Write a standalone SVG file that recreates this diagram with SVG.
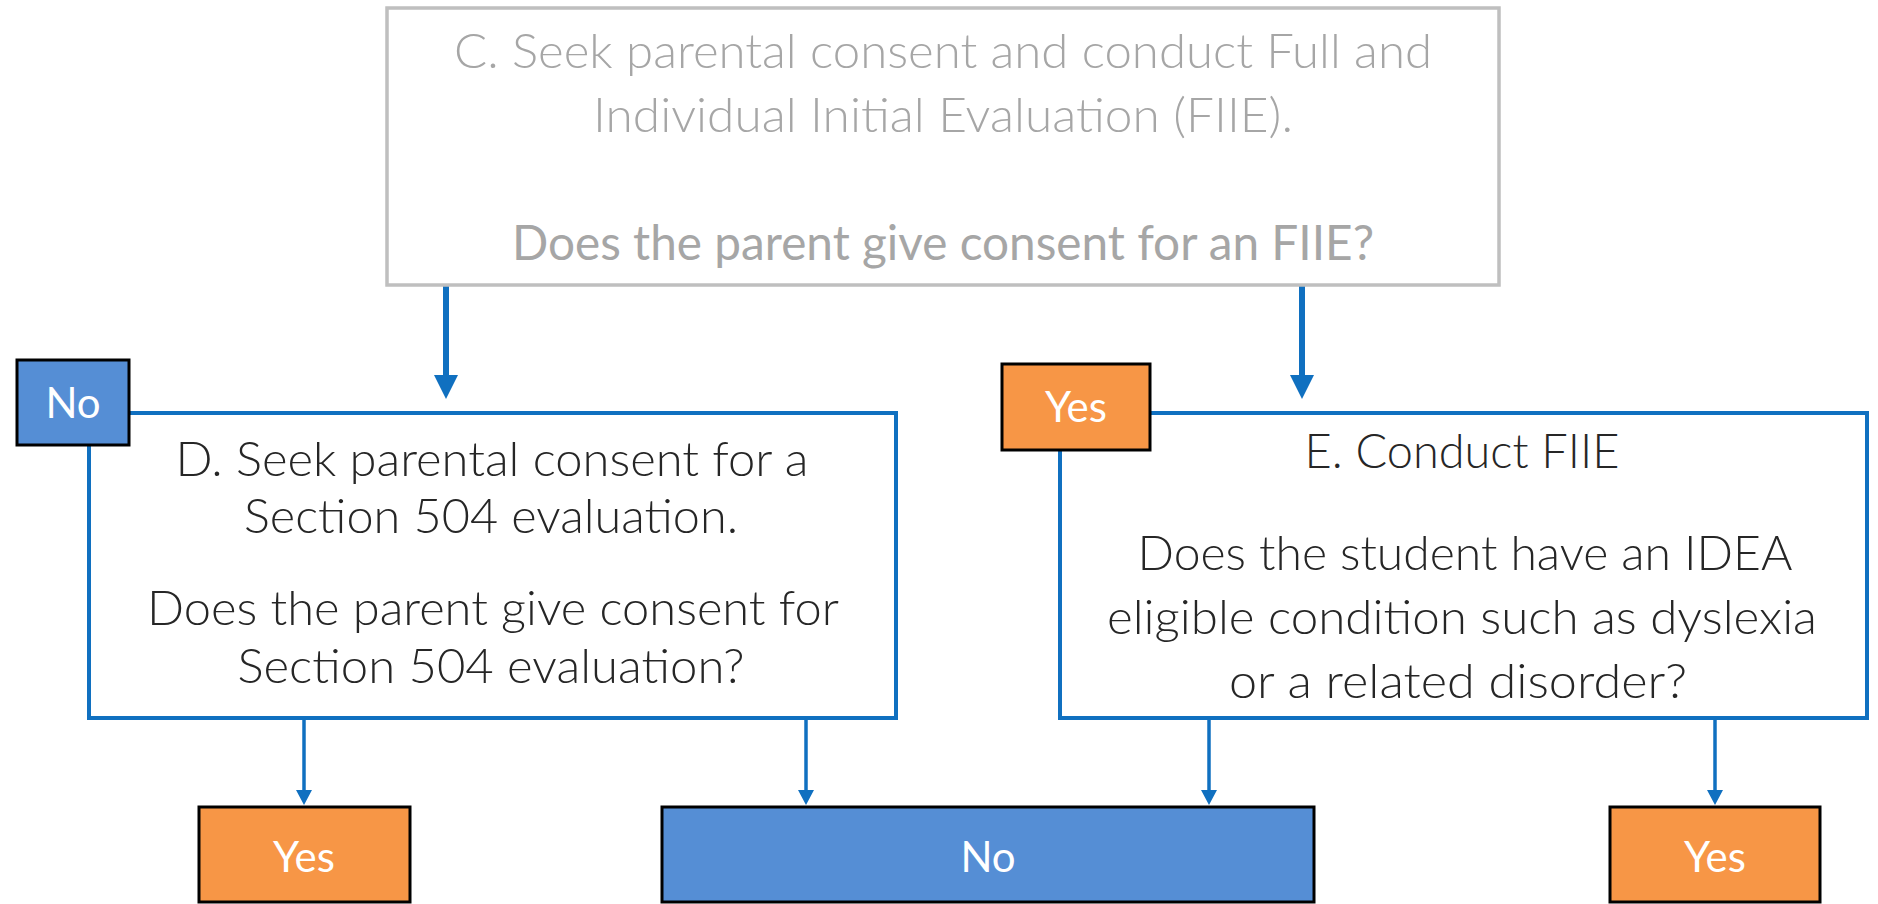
<svg xmlns="http://www.w3.org/2000/svg" width="1878" height="904" viewBox="0 0 1878 904">
<style>
.txt{font-family:Lato,"Liberation Sans",sans-serif;text-anchor:middle}
.light{font-weight:300}
.gray{fill:#A6A6A6}
.dark{fill:#262626}
.main{font-size:48px}
.lbl{font-size:42px;fill:#FFFFFF}
.boxC{fill:#FFFFFF;stroke:#BFBFBF;stroke-width:3.5}
.boxB{fill:#FFFFFF;stroke:#1070C0;stroke-width:4}
.orange{fill:#F79646;stroke:#000000;stroke-width:3}
.blue{fill:#558ED5;stroke:#000000;stroke-width:3}
.thick{stroke:#1070C0;stroke-width:6;fill:none}
.thin{stroke:#1070C0;stroke-width:3.5;fill:none}
</style>
<defs>
<marker id="headThick" markerUnits="userSpaceOnUse" viewBox="0 0 24 24" refX="4" refY="12" markerWidth="24" markerHeight="24" orient="auto">
<path d="M0,0 L24,12 L0,24 z" fill="#1070C0"/>
</marker>
<marker id="headThin" markerUnits="userSpaceOnUse" viewBox="0 0 15 16" refX="5" refY="8" markerWidth="15" markerHeight="16" orient="auto">
<path d="M0,0 L15,8 L0,16 z" fill="#1070C0"/>
</marker>
</defs>
<rect width="1878" height="904" fill="#FFFFFF"/>

<g id="connectors">
<line class="thick" x1="446" y1="285" x2="446" y2="379" marker-end="url(#headThick)"/>
<line class="thick" x1="1302" y1="285" x2="1302" y2="379" marker-end="url(#headThick)"/>
<line class="thin" x1="304" y1="718" x2="304" y2="795" marker-end="url(#headThin)"/>
<line class="thin" x1="806" y1="718" x2="806" y2="795" marker-end="url(#headThin)"/>
<line class="thin" x1="1209" y1="718" x2="1209" y2="795" marker-end="url(#headThin)"/>
<line class="thin" x1="1715" y1="718" x2="1715" y2="795" marker-end="url(#headThin)"/>
</g>

<g id="nodeC">
<rect class="boxC" x="387" y="8" width="1112" height="277"/>
<text class="txt light gray main" x="943" y="68" textLength="978" lengthAdjust="spacingAndGlyphs">C. Seek parental consent and conduct Full and</text>
<text class="txt light gray main" x="943" y="132" textLength="700" lengthAdjust="spacingAndGlyphs">Individual Initial Evaluation (FIIE).</text>
<text class="txt gray main" x="943" y="260" textLength="862" lengthAdjust="spacingAndGlyphs">Does the parent give consent for an FIIE?</text>
</g>

<g id="nodeD">
<rect class="boxB" x="89" y="413" width="807" height="305"/>
<text class="txt light dark main" x="492" y="476" textLength="633" lengthAdjust="spacingAndGlyphs">D. Seek parental consent for a</text>
<text class="txt light dark main" x="491" y="533" textLength="494" lengthAdjust="spacingAndGlyphs">Section 504 evaluation.</text>
<text class="txt light dark main" x="493" y="625" textLength="692" lengthAdjust="spacingAndGlyphs">Does the parent give consent for</text>
<text class="txt light dark main" x="491" y="683" textLength="507" lengthAdjust="spacingAndGlyphs">Section 504 evaluation?</text>
</g>

<g id="labelNoD">
<rect class="blue" x="17" y="360" width="112" height="85"/>
<text class="txt lbl" x="73" y="418">No</text>
</g>

<g id="nodeE">
<rect class="boxB" x="1060" y="413" width="807" height="305"/>
<text class="txt light dark main" x="1462" y="468" textLength="315" lengthAdjust="spacingAndGlyphs">E. Conduct FIIE</text>
<text class="txt light dark main" x="1465" y="570" textLength="655" lengthAdjust="spacingAndGlyphs">Does the student have an IDEA</text>
<text class="txt light dark main" x="1462" y="634" textLength="710" lengthAdjust="spacingAndGlyphs">eligible condition such as dyslexia</text>
<text class="txt light dark main" x="1458" y="698" textLength="458" lengthAdjust="spacingAndGlyphs">or a related disorder?</text>
</g>

<g id="labelYesE">
<rect class="orange" x="1002" y="364" width="148" height="86"/>
<text class="txt lbl" x="1076" y="422">Yes</text>
</g>

<g id="yesLeft">
<rect class="orange" x="199" y="807" width="211" height="95"/>
<text class="txt lbl" x="304" y="872">Yes</text>
</g>

<g id="noBottom">
<rect class="blue" x="662" y="807" width="652" height="95"/>
<text class="txt lbl" x="988" y="872">No</text>
</g>

<g id="yesRight">
<rect class="orange" x="1610" y="807" width="210" height="95"/>
<text class="txt lbl" x="1715" y="872">Yes</text>
</g>
</svg>
